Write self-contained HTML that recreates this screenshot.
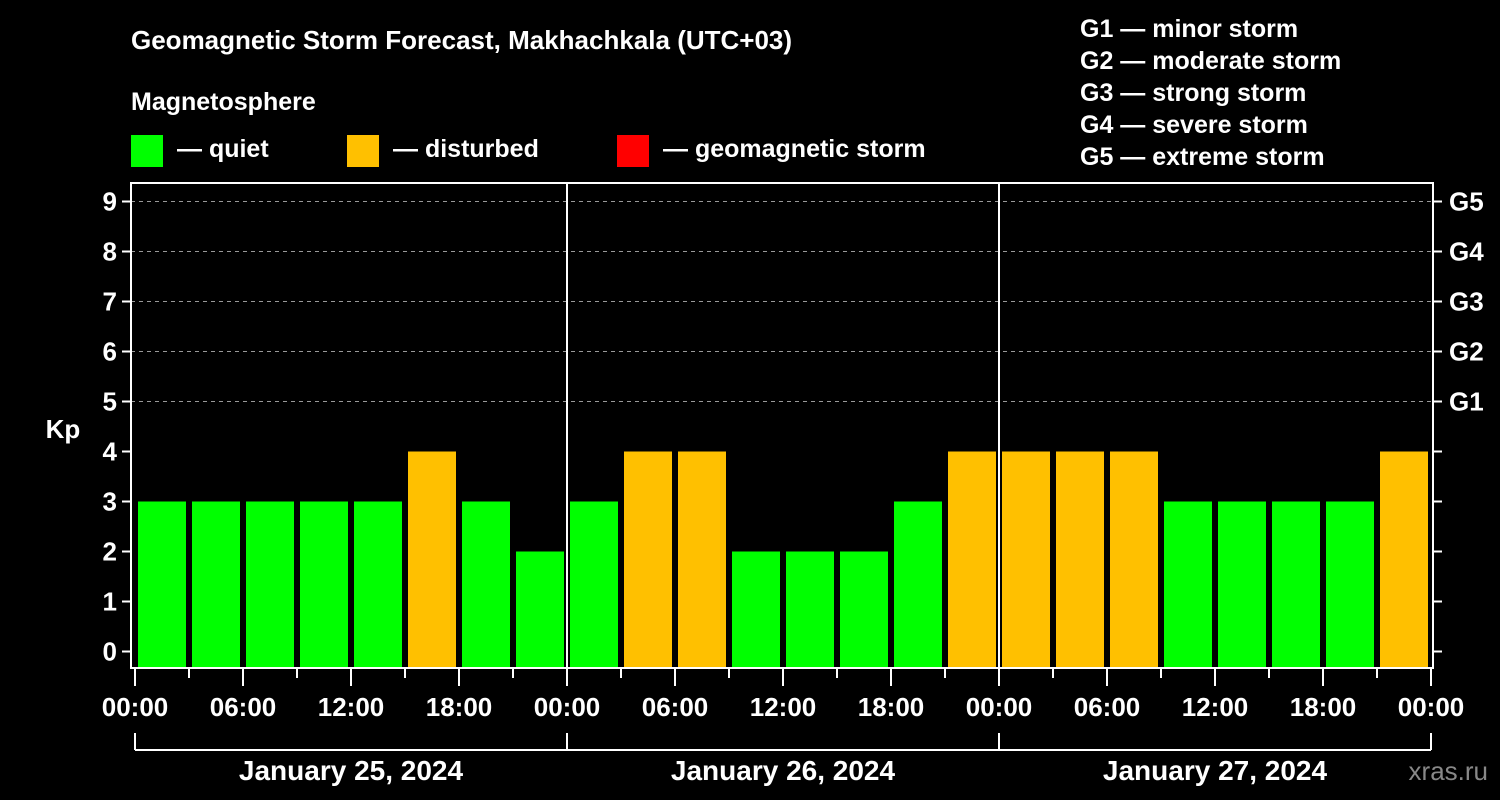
<!DOCTYPE html>
<html><head><meta charset="utf-8"><style>
body{margin:0;background:#000;width:1500px;height:800px;overflow:hidden}
svg{display:block;font-family:"Liberation Sans",Arial,sans-serif;font-weight:bold}
</style></head><body>
<svg id="chart" width="1500" height="800" viewBox="0 0 1500 800">
<rect width="1500" height="800" fill="#000"/>
<text x="131" y="49" fill="#fff" font-size="26">Geomagnetic Storm Forecast, Makhachkala (UTC+03)</text>
<text x="131" y="110" fill="#fff" font-size="25">Magnetosphere</text>
<rect x="131" y="135" width="32" height="32" fill="#00ff00"/>
<text x="177" y="157" fill="#fff" font-size="25">— quiet</text>
<rect x="347" y="135" width="32" height="32" fill="#ffc000"/>
<text x="393" y="157" fill="#fff" font-size="25">— disturbed</text>
<rect x="617" y="135" width="32" height="32" fill="#ff0000"/>
<text x="663" y="157" fill="#fff" font-size="25">— geomagnetic storm</text>
<g fill="#fff" font-size="25">
<text x="1080" y="37">G1 — minor storm</text>
<text x="1080" y="69">G2 — moderate storm</text>
<text x="1080" y="101">G3 — strong storm</text>
<text x="1080" y="133">G4 — severe storm</text>
<text x="1080" y="165">G5 — extreme storm</text>
</g>
<text x="63" y="438" fill="#fff" font-size="26" text-anchor="middle">Kp</text>
<g id="grid"></g><g id="bars"></g><g id="axes"></g>
<text x="1488" y="780" fill="#888" font-size="26" font-weight="normal" text-anchor="end">xras.ru</text>
</svg>
<script>
const kpValues=[3,3,3,3,3,4,3,2, 3,4,4,2,2,2,3,4, 4,4,4,3,3,3,3,4];
const dayLabels=["January 25, 2024","January 26, 2024","January 27, 2024"];
const yTicks=[0,1,2,3,4,5,6,7,8,9];
const gLabels=["G1","G2","G3","G4","G5"];
const hourLabels=["00:00","06:00","12:00","18:00"];
const NS="http://www.w3.org/2000/svg";
const L=131,R=1433,T=183,B=668,X0=135,DAY=432;
const y=k=>651.5-50*k;
const x=h=>X0+h*DAY/24;
function mk(tag,attrs,parent,text){const e=document.createElementNS(NS,tag);for(const k in attrs)e.setAttribute(k,attrs[k]);if(text!==undefined)e.textContent=text;parent.appendChild(e);return e;}
const grid=document.getElementById('grid'),bars=document.getElementById('bars'),axes=document.getElementById('axes');
for(let k=5;k<=9;k++){const l=mk('line',{x1:L,x2:R,y1:y(k),y2:y(k),stroke:'#999','stroke-dasharray':'4,4','stroke-width':1},grid);

}
kpValues.forEach((v,i)=>{const c=v>=5?'#ff0000':(v>=4?'#ffc000':'#00ff00');
const r=mk('rect',{x:x(i*3)+3,y:y(v),width:DAY/8-6,height:B-y(v),fill:c},bars);

});
const fr=mk('rect',{x:L,y:T,width:R-L,height:B-T,fill:'none',stroke:'#fff','stroke-width':2},axes);


for(let d=1;d<dayLabels.length;d++){const l=mk('line',{x1:x(d*24),x2:x(d*24),y1:T,y2:B,stroke:'#fff','stroke-width':2},axes);

}
yTicks.forEach(k=>{mk('line',{x1:L-9,x2:L,y1:y(k),y2:y(k),stroke:'#fff','stroke-width':2},axes);
mk('line',{x1:R,x2:R+9,y1:y(k),y2:y(k),stroke:'#fff','stroke-width':2},axes);
const t=mk('text',{x:L-14,y:y(k)+9,fill:'#fff','font-size':26,'text-anchor':'end'},axes,String(k));

});
gLabels.forEach((g,i)=>{const t=mk('text',{x:1449,y:y(5+i)+9,fill:'#fff','font-size':26},axes,g);

});
for(let h=0;h<=72;h+=3){const major=h%6===0;mk('line',{x1:x(h),x2:x(h),y1:B,y2:B+(major?18:10),stroke:'#fff','stroke-width':2},axes);
if(major){const t=mk('text',{x:x(h),y:716,fill:'#fff','font-size':26,'text-anchor':'middle'},axes,hourLabels[(h/6)%4]);

}}
mk('line',{x1:x(0),x2:x(72),y1:750,y2:750,stroke:'#fff','stroke-width':2},axes);
for(let d=0;d<=dayLabels.length;d++)mk('line',{x1:x(d*24),x2:x(d*24),y1:733,y2:750,stroke:'#fff','stroke-width':2},axes);
dayLabels.forEach((s,d)=>{const t=mk('text',{x:x(d*24+12),y:780,fill:'#fff','font-size':28,'text-anchor':'middle'},axes,s);

});
</script>
</body></html>
